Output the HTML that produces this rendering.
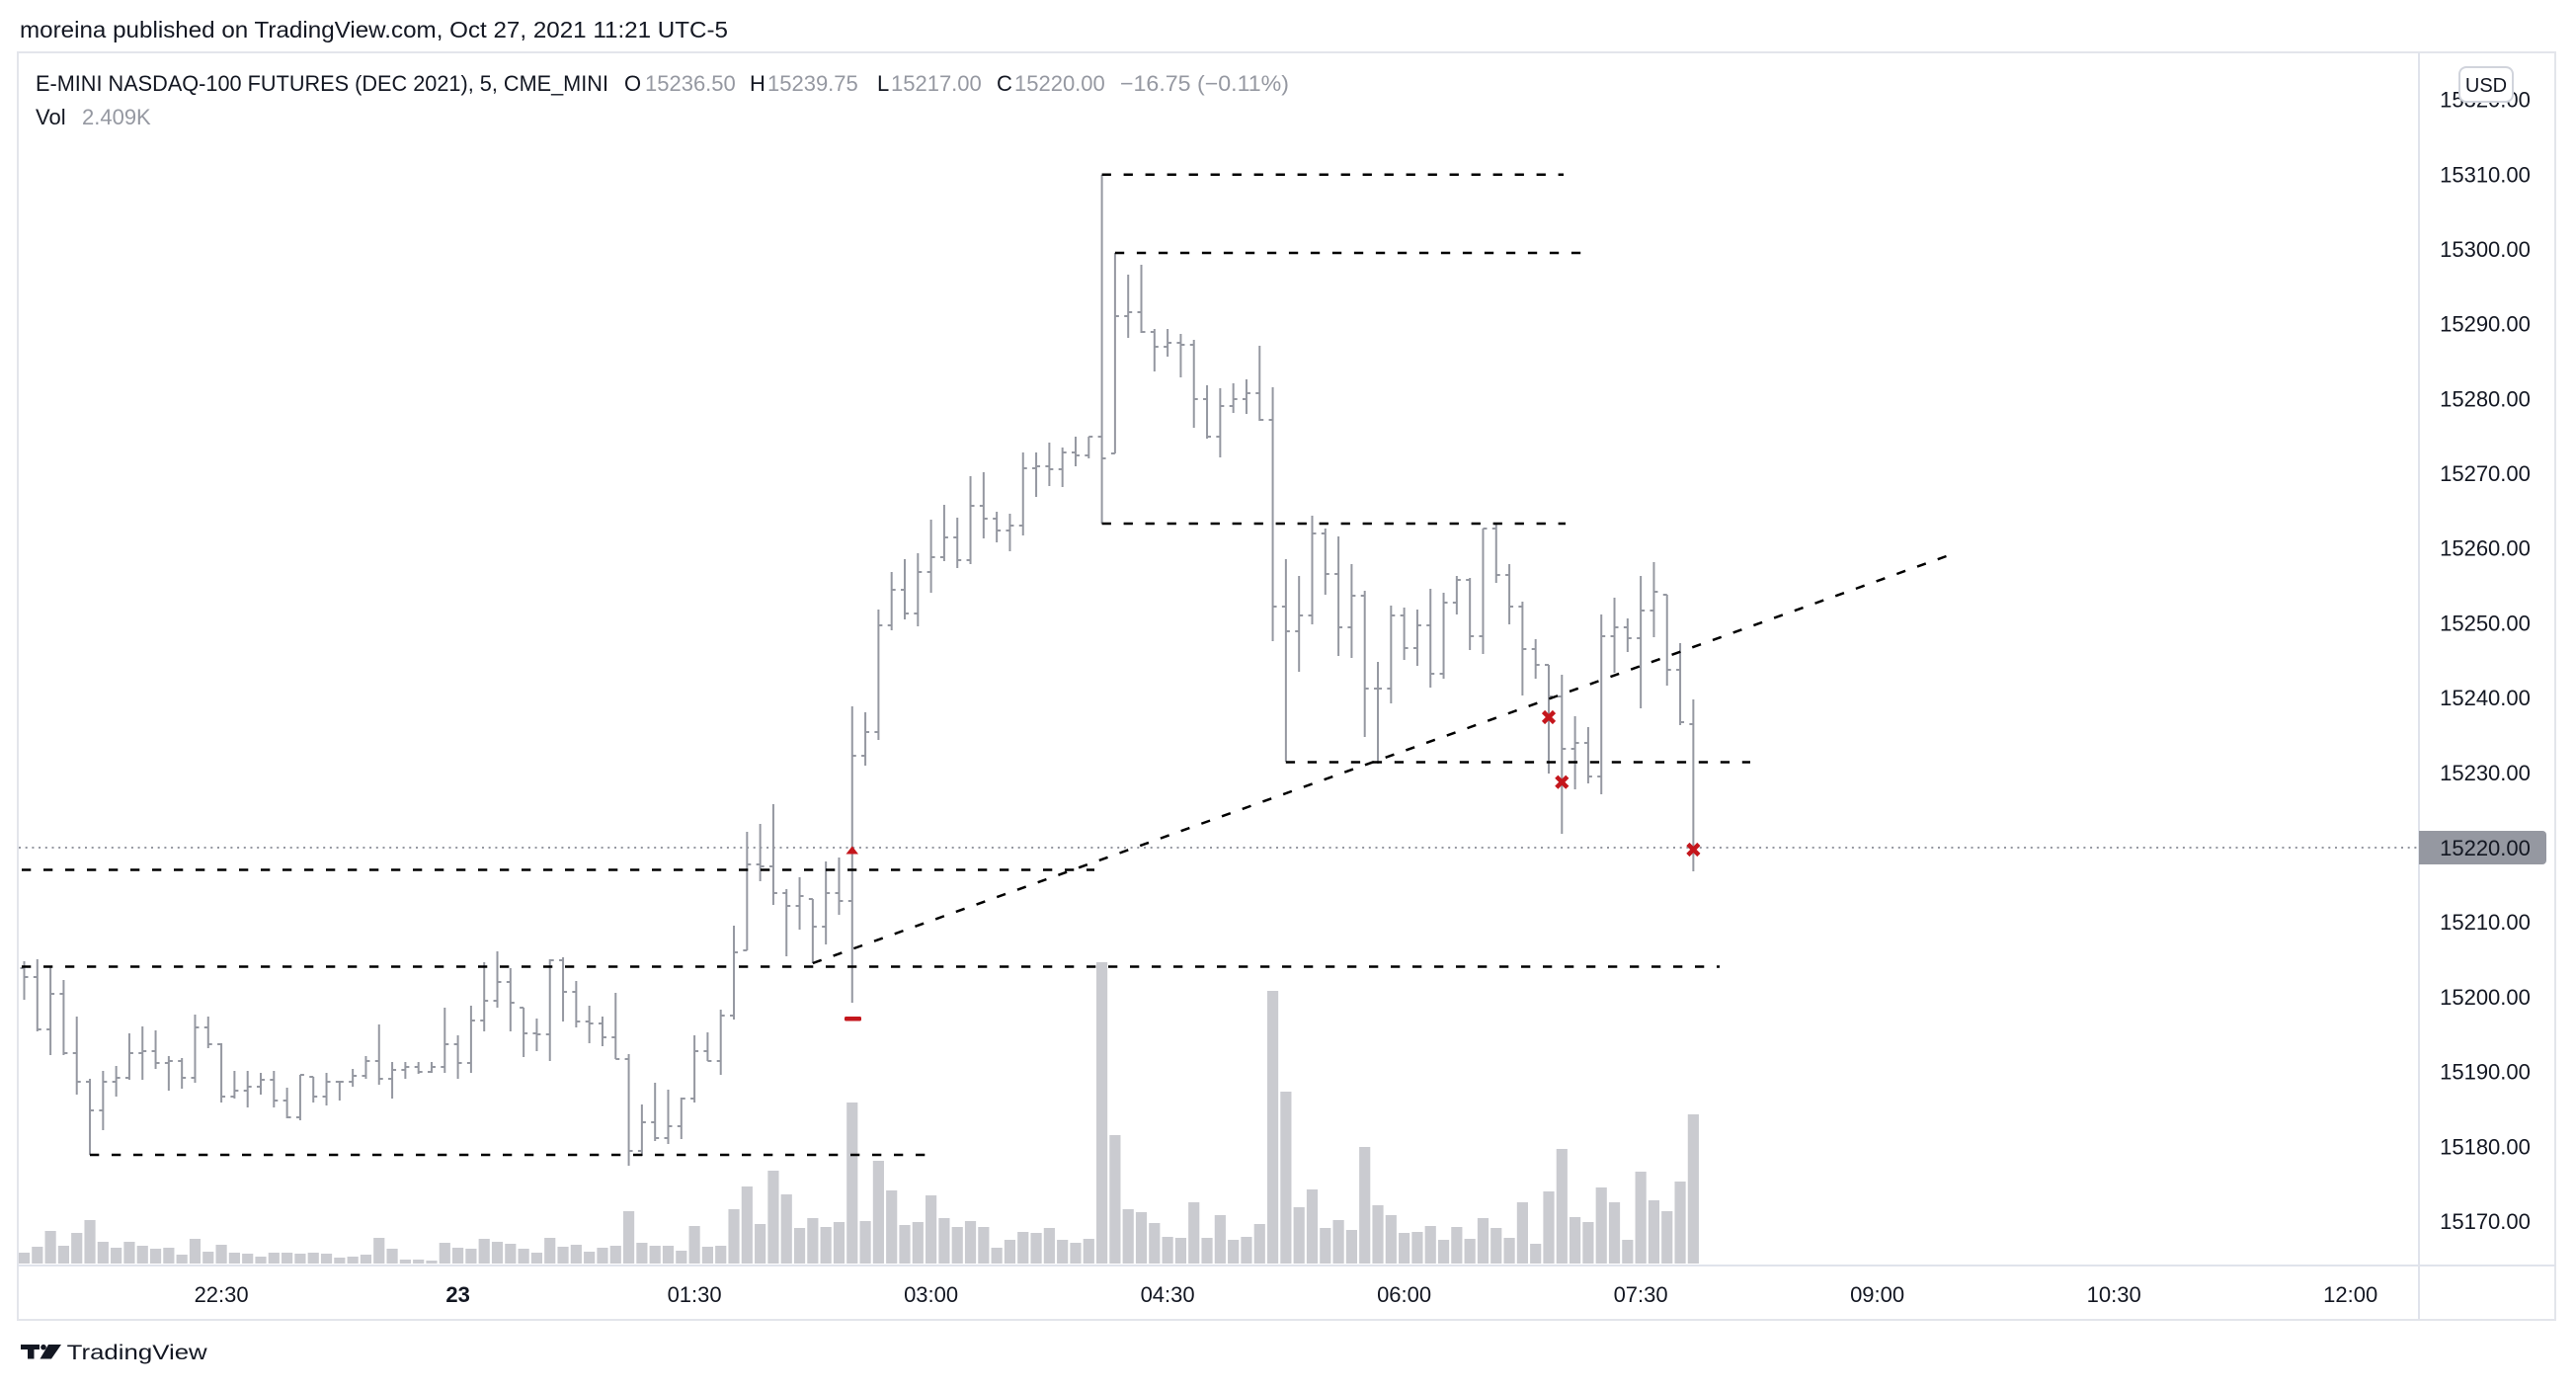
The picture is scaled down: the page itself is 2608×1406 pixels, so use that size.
<!DOCTYPE html>
<html><head><meta charset="utf-8"><style>html,body{margin:0;padding:0;background:#fff;}svg{display:block;}</style></head>
<body>
<svg xmlns="http://www.w3.org/2000/svg" width="2608" height="1406" viewBox="0 0 2608 1406" font-family="'Liberation Sans', sans-serif">
<defs><clipPath id="pane"><rect x="19" y="54" width="2429" height="1226"/></clipPath></defs>
<rect width="2608" height="1406" fill="#fff"/>
<text x="20" y="38" font-size="23" fill="#131722" textLength="717" lengthAdjust="spacingAndGlyphs">moreina published on TradingView.com, Oct 27, 2021 11:21 UTC-5</text>
<rect x="18" y="53" width="2569" height="1283" fill="none" stroke="#e3e5eb" stroke-width="2"/>
<line x1="2449" y1="53" x2="2449" y2="1336" stroke="#e0e3eb" stroke-width="2"/>
<line x1="18" y1="1281" x2="2587" y2="1281" stroke="#e0e3eb" stroke-width="2"/>
<g clip-path="url(#pane)">
<g transform="translate(24.5 0) scale(13.306 1)" fill="#cacbd0">
<path d="M-.42 1268h.84V1279h-.84zM.58 1262h.84V1279h-.84zM1.58 1246h.84V1279h-.84zM2.58 1261h.84V1279h-.84zM3.58 1248h.84V1279h-.84zM4.58 1235h.84V1279h-.84zM5.58 1257h.84V1279h-.84zM6.58 1263h.84V1279h-.84zM7.58 1257h.84V1279h-.84zM8.58 1261h.84V1279h-.84zM9.58 1264h.84V1279h-.84zM10.58 1263h.84V1279h-.84zM11.58 1270h.84V1279h-.84zM12.58 1254h.84V1279h-.84zM13.58 1267h.84V1279h-.84zM14.58 1260h.84V1279h-.84zM15.58 1268h.84V1279h-.84zM16.58 1269h.84V1279h-.84zM17.58 1272h.84V1279h-.84zM18.58 1268h.84V1279h-.84zM19.58 1268h.84V1279h-.84zM20.58 1269h.84V1279h-.84zM21.58 1268h.84V1279h-.84zM22.58 1269h.84V1279h-.84zM23.58 1273h.84V1279h-.84zM24.58 1272h.84V1279h-.84zM25.58 1270h.84V1279h-.84zM26.58 1253h.84V1279h-.84zM27.58 1264h.84V1279h-.84zM28.58 1275h.84V1279h-.84zM29.58 1275h.84V1279h-.84zM30.58 1276h.84V1279h-.84zM31.58 1258h.84V1279h-.84zM32.58 1263h.84V1279h-.84zM33.58 1264h.84V1279h-.84zM34.58 1254h.84V1279h-.84zM35.58 1257h.84V1279h-.84zM36.58 1259h.84V1279h-.84zM37.58 1264h.84V1279h-.84zM38.58 1268h.84V1279h-.84zM39.58 1253h.84V1279h-.84zM40.58 1262h.84V1279h-.84zM41.58 1260h.84V1279h-.84zM42.58 1267h.84V1279h-.84zM43.58 1263h.84V1279h-.84zM44.58 1261h.84V1279h-.84zM45.58 1226h.84V1279h-.84zM46.58 1258h.84V1279h-.84zM47.58 1261h.84V1279h-.84zM48.58 1261h.84V1279h-.84zM49.58 1266h.84V1279h-.84zM50.58 1241h.84V1279h-.84zM51.58 1262h.84V1279h-.84zM52.58 1261h.84V1279h-.84zM53.58 1224h.84V1279h-.84zM54.58 1201h.84V1279h-.84zM55.58 1239h.84V1279h-.84zM56.58 1185h.84V1279h-.84zM57.58 1209h.84V1279h-.84zM58.58 1243h.84V1279h-.84zM59.58 1233h.84V1279h-.84zM60.58 1242h.84V1279h-.84zM61.58 1237h.84V1279h-.84zM62.58 1116h.84V1279h-.84zM63.58 1236h.84V1279h-.84zM64.58 1175h.84V1279h-.84zM65.58 1205h.84V1279h-.84zM66.58 1240h.84V1279h-.84zM67.58 1237h.84V1279h-.84zM68.58 1210h.84V1279h-.84zM69.58 1233h.84V1279h-.84zM70.58 1242h.84V1279h-.84zM71.58 1236h.84V1279h-.84zM72.58 1242h.84V1279h-.84zM73.58 1263h.84V1279h-.84zM74.58 1255h.84V1279h-.84zM75.58 1247h.84V1279h-.84zM76.58 1248h.84V1279h-.84zM77.58 1243h.84V1279h-.84zM78.58 1255h.84V1279h-.84zM79.58 1258h.84V1279h-.84zM80.58 1254h.84V1279h-.84zM81.58 974h.84V1279h-.84zM82.58 1149h.84V1279h-.84zM83.58 1224h.84V1279h-.84zM84.58 1227h.84V1279h-.84zM85.58 1238h.84V1279h-.84zM86.58 1252h.84V1279h-.84zM87.58 1253h.84V1279h-.84zM88.58 1217h.84V1279h-.84zM89.58 1253h.84V1279h-.84zM90.58 1230h.84V1279h-.84zM91.58 1255h.84V1279h-.84zM92.58 1252h.84V1279h-.84zM93.58 1239h.84V1279h-.84zM94.58 1003h.84V1279h-.84zM95.58 1105h.84V1279h-.84zM96.58 1222h.84V1279h-.84zM97.58 1204h.84V1279h-.84zM98.58 1243h.84V1279h-.84zM99.58 1235h.84V1279h-.84zM100.58 1245h.84V1279h-.84zM101.58 1161h.84V1279h-.84zM102.58 1220h.84V1279h-.84zM103.58 1230h.84V1279h-.84zM104.58 1248h.84V1279h-.84zM105.58 1247h.84V1279h-.84zM106.58 1241h.84V1279h-.84zM107.58 1255h.84V1279h-.84zM108.58 1242h.84V1279h-.84zM109.58 1254h.84V1279h-.84zM110.58 1233h.84V1279h-.84zM111.58 1243h.84V1279h-.84zM112.58 1253h.84V1279h-.84zM113.58 1217h.84V1279h-.84zM114.58 1259h.84V1279h-.84zM115.58 1206h.84V1279h-.84zM116.58 1163h.84V1279h-.84zM117.58 1232h.84V1279h-.84zM118.58 1237h.84V1279h-.84zM119.58 1202h.84V1279h-.84zM120.58 1217h.84V1279h-.84zM121.58 1255h.84V1279h-.84zM122.58 1186h.84V1279h-.84zM123.58 1215h.84V1279h-.84zM124.58 1226h.84V1279h-.84zM125.58 1196h.84V1279h-.84zM126.58 1128h.84V1279h-.84z"/>
</g>
<line x1="19" y1="858" x2="2448" y2="858" stroke="#9598a1" stroke-width="2" stroke-dasharray="2 4.7"/>
<g transform="translate(24.5 0) scale(13.306 1)">
<path fill="none" stroke="#9598a1" stroke-width="2" vector-effect="non-scaling-stroke" d="M0 973V1012M-.3 980H0M0 989H.3M1 971V1044M.7 989H1M1 1042H1.3M2 979V1068M1.7 1042H2M2 1006H2.3M3 992V1068M2.7 1006H3M3 1066H3.3M4 1029V1108M3.7 1066H4M4 1095H4.3M5 1092V1169M4.7 1095H5M5 1124H5.3M6 1084V1144M5.7 1124H6M6 1095H6.3M7 1079V1110M6.7 1095H7M7 1091H7.3M8 1046V1093M7.7 1091H8M8 1066H8.3M9 1039V1093M8.7 1066H9M9 1064H9.3M10 1043V1082M9.7 1064H10M10 1076H10.3M11 1069V1104M10.7 1076H11M11 1074H11.3M12 1071V1102M11.7 1074H12M12 1091H12.3M13 1027V1096M12.7 1091H13M13 1040H13.3M14 1029V1061M13.7 1040H14M14 1057H14.3M15 1056V1116M14.7 1057H15M15 1110H15.3M16 1084V1112M15.7 1110H16M16 1104H16.3M17 1084V1121M16.7 1104H17M17 1100H17.3M18 1086V1108M17.7 1100H18M18 1093H18.3M19 1084V1121M18.7 1093H19M19 1114H19.3M20 1101V1132M19.7 1114H20M20 1131H20.3M21 1088V1134M20.7 1131H21M21 1088H21.3M22 1090V1116M21.7 1090H22M22 1110H22.3M23 1086V1119M22.7 1110H23M23 1095H23.3M24 1094V1114M23.7 1095H24M24 1095H24.3M25 1082V1100M24.7 1095H25M25 1089H25.3M26 1069V1092M25.7 1089H26M26 1074H26.3M27 1037V1098M26.7 1074H27M27 1092H27.3M28 1075V1112M27.7 1092H28M28 1083H28.3M29 1075V1092M28.7 1083H29M29 1080H29.3M30 1075V1087M29.7 1080H30M30 1085H30.3M31 1075V1086M30.7 1085H31M31 1080H31.3M32 1020V1086M31.7 1080H32M32 1057H32.3M33 1048V1092M32.7 1057H33M33 1076H33.3M34 1018V1086M33.7 1076H34M34 1033H34.3M35 974V1044M34.7 1033H35M35 1013H35.3M36 963V1020M35.7 1013H36M36 994H36.3M37 980V1044M36.7 994H37M37 1015H37.3M38 1020V1070M37.7 1020H38M38 1046H38.3M39 1031V1064M38.7 1046H39M39 1047H39.3M40 971V1074M39.7 1047H40M40 972H40.3M41 969V1034M40.7 972H41M41 1004H41.3M42 993V1040M41.7 1004H42M42 1034H42.3M43 1018V1056M42.7 1034H43M43 1036H43.3M44 1029V1059M43.7 1036H44M44 1050H44.3M45 1005V1072M44.7 1050H45M45 1072H45.3M46 1067V1180M45.7 1072H46M46 1165H46.3M47 1118V1170M46.7 1165H47M47 1136H47.3M48 1096V1155M47.7 1136H48M48 1152H48.3M49 1103V1158M48.7 1152H49M49 1140H49.3M50 1111V1153M49.7 1140H50M50 1112H50.3M51 1048V1116M50.7 1112H51M51 1064H51.3M52 1045V1074M51.7 1064H52M52 1074H52.3M53 1022V1088M52.7 1074H53M53 1028H53.3M54 937V1032M53.7 1028H54M54 964H54.3M55 842V962M54.7 962H55M55 875H55.3M56 834V892M55.7 875H56M56 877H56.3M57 814V916M56.7 877H57M57 904H57.3M58 900V968M57.7 904H58M58 917H58.3M59 888V941M58.7 917H59M59 907H59.3M60 910V975M59.7 910H60M60 938H60.3M61 872V956M60.7 938H61M61 904H61.3M62 868V926M61.7 904H62M62 912H62.3M63 715V1015M62.7 912H63M63 765H63.3M64 721V775M63.7 765H64M64 741H64.3M65 617V749M64.7 741H65M65 633H65.3M66 579V638M65.7 633H66M66 597H66.3M67 566V627M66.7 597H67M67 621H67.3M68 560V634M67.7 621H68M68 579H68.3M69 526V600M68.7 579H69M69 564H69.3M70 511V568M69.7 564H70M70 544H70.3M71 524V575M70.7 544H71M71 567H71.3M72 482V571M71.7 567H72M72 512H72.3M73 478V545M72.7 512H73M73 525H73.3M74 518V549M73.7 525H74M74 537H74.3M75 520V558M74.7 537H75M75 532H75.3M76 458V542M75.7 532H76M76 474H76.3M77 458V503M76.7 474H77M77 472H77.3M78 448V492M77.7 472H78M78 475H78.3M79 453V493M78.7 475H79M79 458H79.3M80 442V472M79.7 458H80M80 461H80.3M81 442V464M80.7 461H81M81 442H81.3M82 177V530M81.7 442H82M82 464H82.3M83 256V459M82.7 459H83M83 320H83.3M84 278V342M83.7 320H84M84 316H84.3M85 268V337M84.7 316H85M85 336H85.3M86 333V376M85.7 336H86M86 351H86.3M87 333V361M86.7 351H87M87 347H87.3M88 338V382M87.7 347H88M88 349H88.3M89 344V433M88.7 349H89M89 404H89.3M90 390V444M89.7 404H90M90 442H90.3M91 393V463M90.7 442H91M91 411H91.3M92 388V418M91.7 411H92M92 404H92.3M93 384V419M92.7 404H93M93 398H93.3M94 350V426M93.7 398H94M94 425H94.3M95 392V649M94.7 425H95M95 614H95.3M96 566V771M95.7 614H96M96 639H96.3M97 583V680M96.7 639H97M97 623H97.3M98 522V632M97.7 623H98M98 540H98.3M99 535V602M98.7 540H99M99 581H99.3M100 543V664M99.7 581H100M100 635H100.3M101 571V666M100.7 635H101M101 603H101.3M102 598V746M101.7 603H102M102 697H102.3M103 670V773M102.7 697H103M103 697H103.3M104 613V712M103.7 697H104M104 623H104.3M105 615V668M104.7 623H105M105 656H105.3M106 617V674M105.7 656H106M106 633H106.3M107 596V696M106.7 633H107M107 682H107.3M108 600V687M107.7 682H108M108 610H108.3M109 583V622M108.7 610H109M109 587H109.3M110 585V658M109.7 587H110M110 644H110.3M111 535V662M110.7 644H111M111 535H111.3M112 531V590M111.7 535H112M112 582H112.3M113 571V632M112.7 582H113M113 614H113.3M114 609V704M113.7 614H114M114 657H114.3M115 647V687M114.7 657H115M115 673H115.3M116 673V783M115.7 673H116M116 705H116.3M117 683V844M116.7 705H117M117 758H117.3M118 725V799M117.7 758H118M118 752H118.3M119 736V793M118.7 752H119M119 786H119.3M120 622V804M119.7 786H120M120 644H120.3M121 605V681M120.7 644H121M121 635H121.3M122 626V660M121.7 635H122M122 646H122.3M123 583V717M122.7 646H123M123 618H123.3M124 569V645M123.7 618H124M124 599H124.3M125 602V694M124.7 602H125M125 678H125.3M126 651V734M125.7 678H126M126 731H126.3M127 708V882M126.7 733H127M127 858H127.3"/>
</g>
<g fill="none" stroke="#000" stroke-width="2.5" stroke-dasharray="9.3 12.7">
<path d="M1115.6 176.7H1583"/>
<path d="M1128.9 256H1603"/>
<path d="M1115.6 530H1585"/>
<path d="M1301.8 771.5H1772"/>
<path d="M0 880.5H1108"/>
<path d="M0 978.5H1741"/>
<path d="M91 1169H937"/>
<path d="M822.9 975L1972.7 562.2"/>
</g>
<g fill="#c4161c">
<polygon points="856.5,864.5 869,864.5 862.8,856.5"/>
<rect x="855" y="1029" width="17" height="4.5" rx="1.5"/>
</g>
<g stroke="#c4161c" stroke-width="4.5" fill="none">
<path d="M1562.5 720.5L1573.5 731.5M1562.5 731.5L1573.5 720.5"/>
<path d="M1575.8 786.2L1586.8 797.2M1575.8 797.2L1586.8 786.2"/>
<path d="M1708.9 854.5L1719.9 865.5M1708.9 865.5L1719.9 854.5"/>
</g>
</g>
<text x="36" y="92" font-size="22" fill="#131722" textLength="580" lengthAdjust="spacingAndGlyphs">E-MINI NASDAQ-100 FUTURES (DEC 2021), 5, CME_MINI</text>
<g font-size="22">
<text x="632" y="92" fill="#131722">O</text><text x="653" y="92" fill="#9598a1">15236.50</text>
<text x="759" y="92" fill="#131722">H</text><text x="777" y="92" fill="#9598a1">15239.75</text>
<text x="888" y="92" fill="#131722">L</text><text x="902" y="92" fill="#9598a1">15217.00</text>
<text x="1009" y="92" fill="#131722">C</text><text x="1027" y="92" fill="#9598a1">15220.00</text>
<text x="1134" y="92" fill="#9598a1" textLength="171" lengthAdjust="spacingAndGlyphs">−16.75 (−0.11%)</text>
<text x="36" y="126" fill="#131722">Vol</text><text x="83" y="126" fill="#9598a1">2.409K</text>
</g>
<g font-size="22" fill="#131722" text-anchor="middle">
<text x="2516" y="108.6">15320.00</text>
<text x="2516" y="184.3">15310.00</text>
<text x="2516" y="260">15300.00</text>
<text x="2516" y="335.7">15290.00</text>
<text x="2516" y="411.3">15280.00</text>
<text x="2516" y="487">15270.00</text>
<text x="2516" y="562.7">15260.00</text>
<text x="2516" y="638.4">15250.00</text>
<text x="2516" y="714.1">15240.00</text>
<text x="2516" y="789.8">15230.00</text>
<text x="2516" y="941.2">15210.00</text>
<text x="2516" y="1016.9">15200.00</text>
<text x="2516" y="1092.6">15190.00</text>
<text x="2516" y="1168.3">15180.00</text>
<text x="2516" y="1244">15170.00</text>
</g>
<path d="M2449 841H2574a4 4 0 0 1 4 4V871a4 4 0 0 1-4 4H2449z" fill="#9598a1"/>
<text x="2516" y="866" font-size="22" fill="#131722" text-anchor="middle">15220.00</text>
<rect x="2490" y="68" width="54" height="35" rx="7" fill="#fff" stroke="#d1d4dc" stroke-width="2"/>
<text x="2517" y="93" font-size="20" fill="#131722" text-anchor="middle">USD</text>
<g font-size="22" fill="#131722" text-anchor="middle">
<text x="224.1" y="1318">22:30</text>
<text x="463.6" y="1318" font-weight="bold">23</text>
<text x="703.1" y="1318">01:30</text>
<text x="942.6" y="1318">03:00</text>
<text x="1182.1" y="1318">04:30</text>
<text x="1421.6" y="1318">06:00</text>
<text x="1661.1" y="1318">07:30</text>
<text x="1900.6" y="1318">09:00</text>
<text x="2140.2" y="1318">10:30</text>
<text x="2379.7" y="1318">12:00</text>
</g>
<g fill="#131722">
<rect x="21" y="1361" width="19" height="5"/>
<rect x="28" y="1361" width="6.5" height="14.5"/>
<circle cx="44" cy="1363.7" r="2.8"/>
<polygon points="49,1361 62,1361 52,1375.5 40.5,1375.5"/>
</g>
<text x="67.7" y="1376" font-size="21" fill="#131722" textLength="142" lengthAdjust="spacingAndGlyphs">TradingView</text>
</svg>
</body></html>
